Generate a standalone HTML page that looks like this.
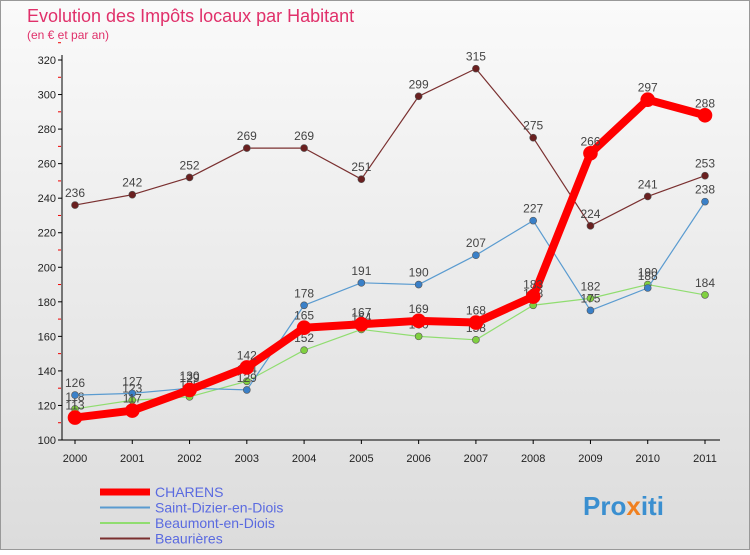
<!DOCTYPE html>
<html><head><meta charset="utf-8"><style>
body{margin:0;width:750px;height:550px;overflow:hidden;font-family:"Liberation Sans",sans-serif}
</style></head><body>
<svg width="750" height="550" id="c">
<defs><linearGradient id="bg" x1="0" y1="0" x2="0" y2="1"><stop offset="0" stop-color="#fafafa"/><stop offset="1" stop-color="#dcdcdc"/></linearGradient></defs>
<rect x="0.5" y="0.5" width="749" height="549" fill="url(#bg)" stroke="#999"/>
<text x="27" y="22" font-size="18" fill="#e0306a">Evolution des Impôts locaux par Habitant</text>
<text x="27" y="39" font-size="12" fill="#e0306a">(en € et par an)</text>
<g id="axes"></g><g id="series"></g><g id="legend"></g>
<text x="583" y="515" font-size="26" font-weight="bold" fill="#3a8fd0">Pro<tspan fill="#f08020">x</tspan>iti</text>
</svg>
<script>
const years=[2000,2001,2002,2003,2004,2005,2006,2007,2008,2009,2010,2011];
const yTicks=[100,120,140,160,180,200,220,240,260,280,300,320];
const charens=[113,117,129,142,165,167,169,168,183,266,297,288];
const saintDizier=[126,127,130,129,178,191,190,207,227,175,188,238];
const beaumont=[118,123,125,134,152,164,160,158,178,182,190,184];
const beaurieres=[236,242,252,269,269,251,299,315,275,224,241,253];
const NS="http://www.w3.org/2000/svg";
const X=i=>75+i*(630/11), Y=v=>440-(v-100)*(380/220);
function mk(t,a,p){const e=document.createElementNS(NS,t);for(const k in a)e.setAttribute(k,a[k]);p.appendChild(e);return e;}
const ax=document.getElementById('axes');
const yl=mk('line',{x1:62,y1:55,x2:62,y2:440,stroke:'#000'},ax);


const xl=mk('line',{x1:62,y1:440,x2:720,y2:440,stroke:'#000'},ax);


yTicks.forEach(v=>{const t=mk('text',{x:56,y:Y(v)+4,'font-size':11,'text-anchor':'end',fill:'#222'},ax);t.textContent=v;


mk('line',{x1:58,y1:Y(v),x2:62,y2:Y(v),stroke:'#000'},ax);
mk('line',{x1:58,y1:Y(v+10),x2:61,y2:Y(v+10),stroke:'#e00'},ax);});
years.forEach((y,i)=>{const t=mk('text',{x:X(i),y:462,'font-size':11,'text-anchor':'middle',fill:'#222'},ax);t.textContent=y;


mk('line',{x1:X(i),y1:440,x2:X(i),y2:444,stroke:'#000'},ax);});
const sg=document.getElementById('series');
function draw(d,col,w,r,dot,name){const g=mk('g',{},sg);


mk('polyline',{points:d.map((v,i)=>X(i)+','+Y(v)).join(' '),fill:'none',stroke:col,'stroke-width':w,'stroke-linejoin':'round'},g);
d.forEach((v,i)=>{const c=mk('circle',{cx:X(i),cy:Y(v),r:r,fill:dot,stroke:col==='#f00'?'#f00':'#555','stroke-width':0.6},g);


const t=mk('text',{x:X(i),y:Y(v)-8,'font-size':12,'text-anchor':'middle',fill:'#444'},g);t.textContent=v;

});}
draw(beaurieres,'#7a3030',1.2,3.5,'#6a2020','beaurieres-series');
draw(beaumont,'#90dd70',1.2,3.5,'#80d040','beaumont-series');
draw(saintDizier,'#5a9bd0',1.2,3.5,'#3a80c8','saint-dizier-series');
draw(charens,'#f00',8,7,'#f00','charens-series');
const lg=document.getElementById('legend');
[['CHARENS','#f00',7],['Saint-Dizier-en-Diois','#5a9bd0',2],['Beaumont-en-Diois','#90dd70',2],['Beaurières','#7a3030',2]].forEach((e,i)=>{
const y=492+i*15.5;const g=mk('g',{},lg);


mk('line',{x1:100,y1:y,x2:150,y2:y,stroke:e[1],'stroke-width':e[2]},g);
const t=mk('text',{x:155,y:y+5,'font-size':14,fill:'#5a6ae0'},g);t.textContent=e[0];});
</script>
</body></html>
